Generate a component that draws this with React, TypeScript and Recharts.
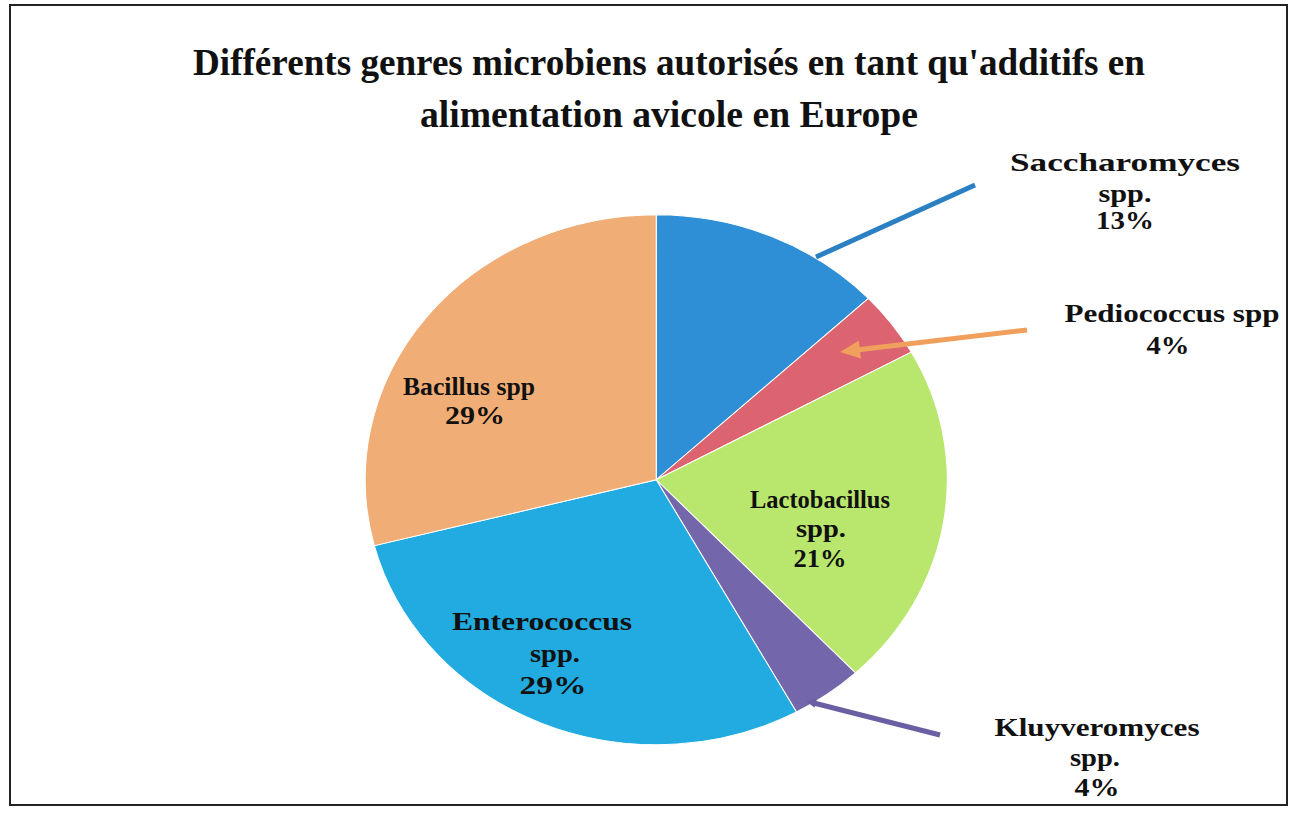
import React from "react";
import { PieChart, Pie, Cell } from "recharts";

const genres = [
  "Saccharomyces spp.",
  "Pediococcus spp",
  "Lactobacillus spp.",
  "Kluyveromyces spp.",
  "Enterococcus spp.",
  "Bacillus spp",
];
const shares = [13, 4, 21, 4, 29, 29];
const colors = ["#2f8fd6", "#dc6470", "#b9e66c", "#7466aa", "#21abe0", "#f1ad76"];
const titleLines = [
  "Différents genres microbiens autorisés en tant qu'additifs en",
  "alimentation avicole en Europe",
];

const data = genres.map((name, i) => ({ name, value: shares[i] }));

// pie is drawn as a slightly squashed ellipse, like the original picture
const CX = 651;
const CY = 475;
const R = 278;
const SX = 1.047;
const SY = 0.953;

// where each label sits, relative to the pie centre (text lines + optional callout)
type Layout = {
  wrap: boolean;
  pos: [number, number][];
  widths: number[];
  callout?: { from: [number, number]; to: [number, number]; color: string; head: number; width: number };
};
const labelLayout: Layout[] = [
  {
    wrap: true,
    pos: [[469, -318], [469, -287], [469, -260]],
    widths: [230, 53, 58],
    callout: { from: [319, -295], to: [160, -223], color: "#2b7fc3", head: 0, width: 5 },
  },
  {
    wrap: false,
    pos: [[516, -167], [512, -135]],
    widths: [215, 43],
    callout: { from: [371, -150], to: [184, -128], color: "#f0a05c", head: 20, width: 5 },
  },
  {
    wrap: true,
    pos: [[164, 19], [165, 48], [164, 78]],
    widths: [140, 50, 53],
  },
  {
    wrap: true,
    pos: [[441, 247], [439, 277], [441, 307]],
    widths: [205, 50, 45],
    callout: { from: [284, 255], to: [150, 221], color: "#6a5fa2", head: 10, width: 5 },
  },
  {
    wrap: true,
    pos: [[-114, 141], [-101, 173], [-103, 205]],
    widths: [180, 50, 67],
  },
  {
    wrap: false,
    pos: [[-187, -94], [-181, -65]],
    widths: [132, 60],
  },
];

const textStyle = {
  fontFamily: "'Liberation Serif', 'Times New Roman', Times, serif",
  fontWeight: 700,
  fontSize: 26,
  fill: "#111",
};

const renderLabel = (props: any) => {
  const { cx, cy, index, value, name } = props;
  const lay = labelLayout[index];
  const words: string[] = lay.wrap ? String(name).split(" ") : [String(name)];
  const lines = [...words, `${value}%`];
  const c = lay.callout;
  let arrow = null;
  if (c) {
    const x1 = cx + c.from[0];
    const y1 = cy + c.from[1];
    const x2 = cx + c.to[0];
    const y2 = cy + c.to[1];
    const len = Math.hypot(x2 - x1, y2 - y1);
    const ux = (x2 - x1) / len;
    const uy = (y2 - y1) / len;
    const h = c.head;
    arrow = (
      <g>
        <line x1={x1} y1={y1} x2={x2 - ux * h * 0.6} y2={y2 - uy * h * 0.6} stroke={c.color} strokeWidth={c.width} />
        {h > 0 && (
          <polygon
            points={`${x2},${y2} ${x2 - ux * h - uy * h * 0.45},${y2 - uy * h + ux * h * 0.45} ${x2 - ux * h + uy * h * 0.45},${y2 - uy * h - ux * h * 0.45}`}
            fill={c.color}
          />
        )}
      </g>
    );
  }
  return (
    <g>
      {arrow}
      {lines.map((line, i) => (
        <text
          key={i}
          x={cx + lay.pos[i][0]}
          y={cy + lay.pos[i][1]}
          textAnchor="middle"
          dominantBaseline="central"
          textLength={lay.widths[i]}
          lengthAdjust="spacingAndGlyphs"
          style={textStyle}
        >
          {line}
        </text>
      ))}
    </g>
  );
};

export default function App() {
  return (
    <div style={{ position: "relative", width: 1296, height: 814, background: "#fff" }}>
      <style>{`
        body { margin: 0; }
        .recharts-sector { transform-origin: ${CX}px ${CY}px; transform: scale(${SX}, ${SY}); }
      `}</style>
      <div
        style={{
          position: "absolute",
          left: 9,
          top: 4,
          width: 1279,
          height: 802,
          border: "2px solid #222",
          boxSizing: "border-box",
        }}
      />
      <PieChart width={1296} height={814}>
        <text
          x={669}
          y={62}
          textAnchor="middle"
          dominantBaseline="central"
          textLength={952}
          lengthAdjust="spacingAndGlyphs"
          style={{ ...textStyle, fontSize: 38 }}
        >
          {titleLines[0]}
        </text>
        <text
          x={669}
          y={114}
          textAnchor="middle"
          dominantBaseline="central"
          textLength={498}
          lengthAdjust="spacingAndGlyphs"
          style={{ ...textStyle, fontSize: 38 }}
        >
          {titleLines[1]}
        </text>
        <Pie
          data={data}
          dataKey="value"
          nameKey="name"
          cx={CX}
          cy={CY}
          outerRadius={R}
          startAngle={90}
          endAngle={-270}
          stroke="#fff"
          strokeWidth={1}
          label={renderLabel}
          labelLine={false}
          isAnimationActive={false}
        >
          {data.map((d, i) => (
            <Cell key={d.name} fill={colors[i]} />
          ))}
        </Pie>
      </PieChart>
    </div>
  );
}
